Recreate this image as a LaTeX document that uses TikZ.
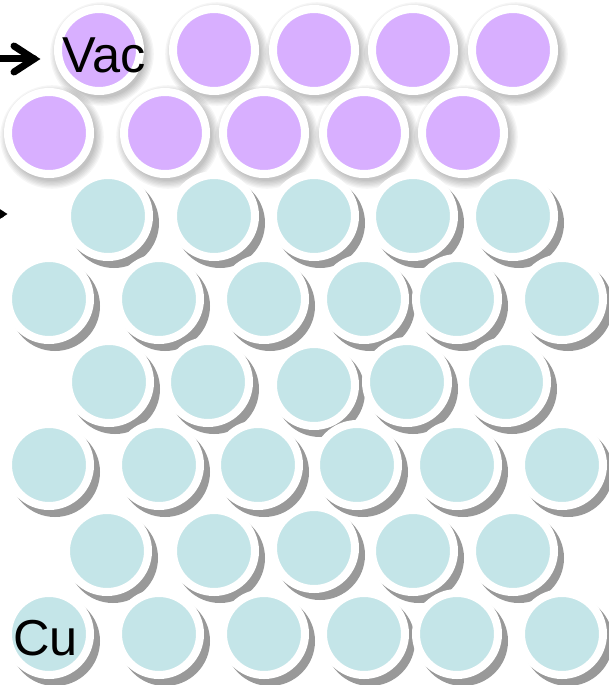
\documentclass[tikz,border=0pt]{standalone}
\usepackage{fontspec}
\setmainfont{Liberation Sans}
\usetikzlibrary{calc}
\definecolor{vaccol}{HTML}{D8AFFF}
\definecolor{cucol}{HTML}{C4E5E8}
\definecolor{shadecol}{HTML}{999999}
\begin{document}
\begin{tikzpicture}[x=1pt,y=-1pt,
  vacatom/.style={circle, minimum size=82pt, inner sep=0pt, draw=white, line width=8pt, fill=vaccol},
  cuatom/.style={circle, minimum size=82pt, inner sep=0pt, draw=white, line width=8pt, fill=cucol},
  hardshadow/.style={fill=shadecol},
  softshadow/.style={fill=black, opacity=0.035},
  arrowline/.style={draw=black, line width=7pt, line cap=round, line join=miter},
  txtlabel/.style={anchor=base west, inner sep=0pt, font=\fontsize{50.5}{60}\selectfont}]
\useasboundingbox[fill=white] (0,0) rectangle (609,685);

% vacuum (purple) layers with soft shadows
\foreach \x/\y [count=\i] in {99/50,214/50,314/50,413/50,513/50,
                              49/133,165/133,264/133,364/133,463/133} {
  \foreach \k in {0,...,6}
    \fill[softshadow] (\x+3,\y+4) circle[radius={44pt+\k*1.3pt}];
  \node[vacatom] (vac-\i) at (\x,\y) {};
}

% copper (cyan) layers with hard shadows
\foreach \x/\y [count=\i] in {
  108/216,214/216,314/216,413/216,513/216,
  49/299,159/299,264/299,364/299,457/299,562/299,
  109/382,208/382,314/385,407/382,506/382,
  49/465,159/465,258/465,357/465,457/465,562/465,
  107/551,214/551,314/548,413/551,513/551,
  49/634,159/634,264/634,364/634,457/634,562/634} {
  \fill[hardshadow] (\x+6,\y+7) circle[radius=45pt];
  \node[cuatom] (cu-\i) at (\x,\y) {};
}

% labels
\node[txtlabel] (vac) at (62,72) {Vac};
\node[txtlabel] (cu) at (13,655) {Cu};

% arrows
\coordinate (a1s) at (0,59);
\coordinate (a1t) at (34,59);
\draw[arrowline] (a1s) -- (a1t);
\draw[arrowline] ($(a1t)+(-20,-13)$) -- (a1t) -- ($(a1t)+(-20,13)$);

\coordinate (a2s) at (-60,214);
\coordinate (a2t) at (1,214);
\draw[arrowline] (a2s) -- (a2t);
\draw[arrowline] ($(a2t)+(-20,-13)$) -- (a2t) -- ($(a2t)+(-20,13)$);
\end{tikzpicture}
\end{document}
